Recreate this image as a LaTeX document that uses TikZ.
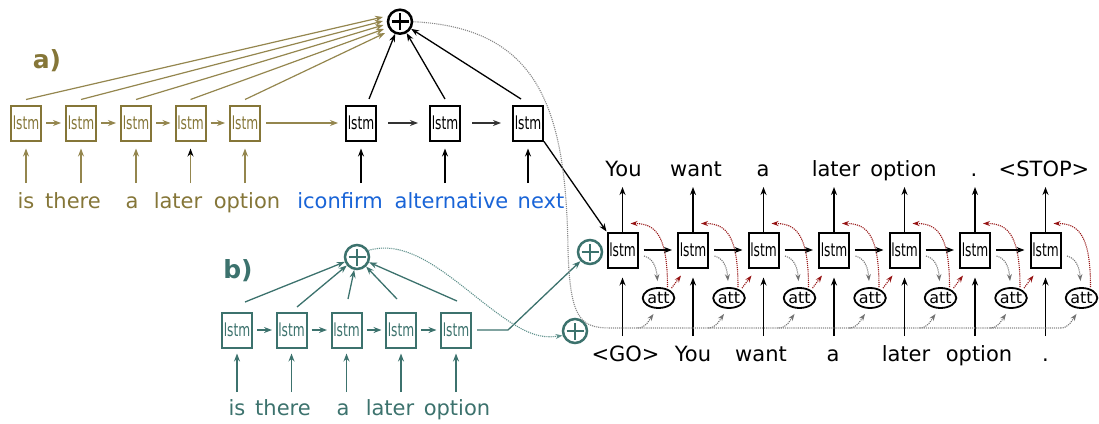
\documentclass[tikz,border=0pt]{standalone}
\usepackage{fontspec}
\usepackage{graphicx}
\setmainfont{DejaVu Sans}
\usetikzlibrary{arrows.meta,shapes.geometric}

\definecolor{olv}{RGB}{133,118,56}
\definecolor{olvl}{RGB}{148,134,78}
\definecolor{tl}{RGB}{60,114,109}
\definecolor{tll}{RGB}{95,145,140}
\definecolor{blu}{RGB}{25,100,215}
\definecolor{dred}{RGB}{150,20,20}
\definecolor{dgr}{RGB}{115,115,115}

\newcommand\lstmlabel{\scalebox{0.68}[1]{lstm}}

\begin{document}
\begin{tikzpicture}[x=1pt,y=1pt,
  lstmbox/.style={draw, rectangle, line width=2pt, minimum width=30pt, minimum height=35pt,
                  inner sep=0pt, font=\fontsize{18}{18}\selectfont},
  attnode/.style={draw, ellipse, line width=1.8pt, minimum width=31pt, minimum height=20pt,
                  inner sep=0pt, font=\fontsize{16}{16}\selectfont},
  word/.style={anchor=base, inner sep=0pt, font=\fontsize{21}{21}\selectfont},
  tag/.style={anchor=base, inner sep=0pt, font=\fontsize{25}{25}\selectfont\bfseries},
  arr/.style={-{Stealth[length=8pt,width=6pt]}, line width=1.3pt},
  oarr/.style={arr, draw=olvl, line width=1.2pt},
  tarr/.style={arr, draw=tl, line width=1.3pt},
  gdot/.style={draw=dgr, densely dotted, line width=1.1pt, -{Stealth[length=7pt,width=5pt]}},
  rdot/.style={draw=dred, densely dotted, line width=1.1pt, -{Stealth[length=7pt,width=5pt]}},
  plusnode/.style={circle, draw=#1, line width=2.5pt, minimum size=24pt, inner sep=0pt,
     path picture={\draw[#1, line width=2.5pt]
        ([xshift=-8.5pt]path picture bounding box.center) -- ([xshift=8.5pt]path picture bounding box.center)
        ([yshift=-8.5pt]path picture bounding box.center) -- ([yshift=8.5pt]path picture bounding box.center);}},
]
\useasboundingbox (0,0) rectangle (1099,-423);

% ---------- a) encoder over the user turn and the system acts ----------
\node[tag, text=olv] (tagA) at (47,-68) {a)};
\node[plusnode=black] (pa) at (400,-21.7) {};

\foreach \i/\x/\w/\wx in {1/26/is/26, 2/81/there/73, 3/136/a/132, 4/190.5/later/178, 5/245/option/247}{
  \node[lstmbox, draw=olv, text=olv] (a\i) at (\x,-123) {\lstmlabel};
  \node[word, text=olv] (aw\i) at (\wx,-208) {\w};
  \coordinate (ain\i) at (\x,-183);
}
\foreach \i in {1,2,3,5}{ \draw[oarr, shorten >=7pt] (ain\i) -- (a\i); }
\draw[olvl, line width=1.2pt, -{Stealth[length=8pt,width=6pt,color=black]}, shorten >=7pt] (ain4) -- (a4);
\foreach \i/\j in {1/2,2/3,3/4,4/5}{ \draw[oarr, shorten <=4pt, shorten >=4pt] (a\i) -- (a\j); }

% olive links into the summation node
\coordinate (ae1) at (383,-17);
\coordinate (ae2) at (383,-21);
\coordinate (ae3) at (383.5,-25);
\coordinate (ae4) at (384,-29);
\coordinate (ae5) at (385,-33);
\foreach \i in {1,...,5}{ \draw[oarr] ([yshift=5pt]a\i.north) -- (ae\i); }

\foreach \i/\x/\w/\wx in {1/361/iconfirm/340, 2/445/alternative/451.5, 3/528/next/541}{
  \node[lstmbox] (c\i) at (\x,-123) {\lstmlabel};
  \node[word, text=blu] (cw\i) at (\wx,-208) {\w};
  \coordinate (cin\i) at (\x,-183);
  \draw[arr, shorten >=7pt] (cin\i) -- (c\i);
}
\draw[oarr, shorten <=5pt, shorten >=7pt] (a5) -- (c1);
\draw[arr, draw=black!80, shorten <=11pt, shorten >=11pt] (c1) -- (c2);
\draw[arr, draw=black!80, shorten <=11pt, shorten >=11pt] (c2) -- (c3);

\draw[arr] ([xshift=8pt,yshift=5.5pt]c1.north) -- (pa);
\draw[arr] ([yshift=5.5pt]c2.north) -- (pa);
\draw[arr] ([xshift=-7pt,yshift=5.5pt]c3.north) -- (pa);

% ---------- b) encoder over the user turn only ----------
\node[tag, text=tl] (tagB) at (238,-278) {b)};
\node[plusnode=tl] (pb) at (357,-257) {};

\foreach \i/\x/\w/\wx in {1/237/is/237, 2/291.5/there/283, 3/346.5/a/343, 4/401/later/390, 5/456/option/457}{
  \node[lstmbox, draw=tl, text=tl] (b\i) at (\x,-330) {\lstmlabel};
  \node[word, text=tl] (bw\i) at (\wx,-415) {\w};
  \coordinate (bin\i) at (\x,-392);
  \draw[tarr, shorten >=5pt] (bin\i) -- (b\i);
}
\foreach \i/\j in {1/2,2/3,3/4,4/5}{ \draw[tarr, shorten <=4pt, shorten >=3.5pt] (b\i) -- (b\j); }

\draw[tarr] ([xshift=8pt,yshift=9.5pt]b1.north) -- (pb);
\draw[tarr] ([xshift=5.5pt,yshift=4.5pt]b2.north) -- (pb);
\draw[tarr] ([xshift=1.5pt,yshift=12.5pt]b3.north) -- (pb);
\draw[tarr] ([xshift=-4pt,yshift=12.5pt]b4.north) -- (pb);
\draw[tarr] ([xshift=1pt,yshift=10.5pt]b5.north) -- (pb);

% ---------- decoder ----------
\node[plusnode=tl] (pc) at (590,-252) {};
\node[plusnode=tl] (pd) at (575,-331) {};

\foreach \i/\ow/\owx/\iw/\iwx in {1/You/623.5/<GO>/625.5, 2/want/696/You/693, 3/a/763/want/761,
   4/later/836/a/833, 5/option/903.5/later/906, 6/./974/option/979, 7/<STOP>/1044/./1045.5}{
  \pgfmathsetmacro\xx{622.5+70.5*(\i-1)}
  \node[lstmbox] (d\i) at (\xx,-250) {\lstmlabel};
  \node[attnode] (t\i) at (\xx+36,-298) {att};
  \node[word] (ow\i) at (\owx,-176.5) {\ow};
  \node[word] (iw\i) at (\iwx,-361) {\iw};
  \coordinate (oa\i) at (\xx,-187);
  \coordinate (ia\i) at (\xx,-336);
  \coordinate (gl\i) at (\xx+15,-328);
  \draw[arr] (d\i) -- (oa\i);
  \draw[arr, shorten >=9pt] (ia\i) -- (d\i);
  % attention: state in, context out
  \draw[gdot] ([xshift=5.5pt,yshift=-6pt]d\i.east) to[out=-15,in=95] ([xshift=-1pt,yshift=6pt]t\i.north);
  \draw[rdot] ([xshift=9pt]t\i.north) .. controls +(0,52) and +(25,0) .. ([xshift=8pt,yshift=8pt]d\i.north);
  \draw[gdot] (gl\i) to[out=0,in=-125] ([xshift=-5pt,yshift=-5pt]t\i.south);
}
\foreach \i/\j in {1/2,2/3,3/4,4/5,5/6,6/7}{
  \draw[arr, shorten <=5pt, shorten >=5pt] (d\i) -- (d\j);
  \draw[rdot] ([xshift=13pt,yshift=-1pt]t\i.north) -- ([xshift=4pt,yshift=-7pt]d\j.south west);
}

% encoder outputs into the decoder
\draw[arr] (c3.south east) -- (d1.north west);
\coordinate (bk) at (508,-330);
\draw[tarr, shorten <=5pt] (b5.east) -- (bk) -- (pc);

% attention memory lines
\draw[draw=dgr!85, densely dotted, line width=1.1pt] (pa.east) .. controls (540,-28) and (566,-110) .. (568,-250)
   .. controls (570,-318) and (580,-328) .. (610,-328) -- (gl7);
\draw[draw=tll, densely dotted, line width=1.1pt, -{Stealth[length=7pt,width=5pt]}]
   (pb.30) .. controls (420,-235) and (470,-300) .. (520,-328) .. controls (535,-336) and (545,-338) .. (pd.200);
\end{tikzpicture}
\end{document}
